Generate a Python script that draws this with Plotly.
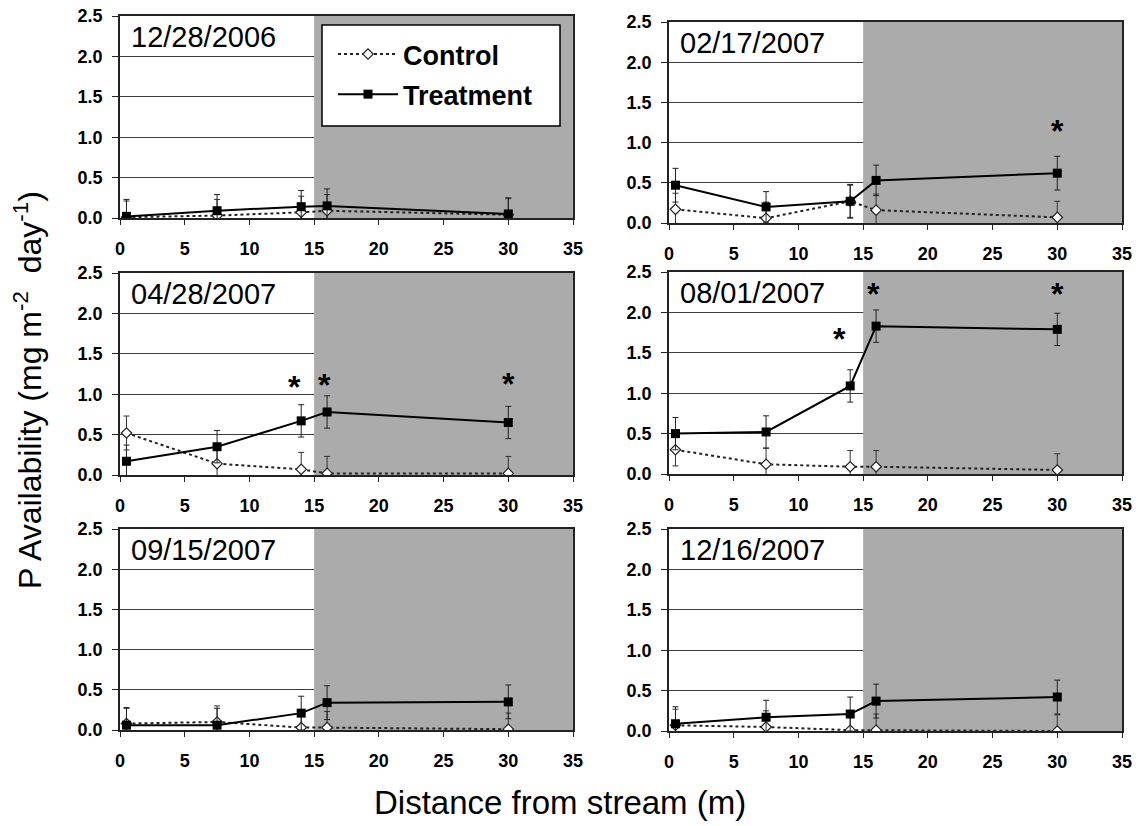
import plotly.graph_objects as go

W, H = 1139, 826
FONT = "Arial, 'Liberation Sans', sans-serif"

# ---- data ----
x_pos = [0.5, 7.5, 14, 16, 30]
dates = ["12/28/2006", "02/17/2007", "04/28/2007", "08/01/2007", "09/15/2007", "12/16/2007"]

ctrl_1 = [0.01, 0.03, 0.07, 0.09, 0.04]
ctrl_err_1 = [0.20, 0.20, 0.20, 0.20, 0.20]
treat_1 = [0.02, 0.09, 0.14, 0.15, 0.05]
treat_err_1 = [0.21, 0.20, 0.20, 0.21, 0.20]

ctrl_2 = [0.17, 0.06, 0.27, 0.16, 0.07]
ctrl_err_2 = [0.20, 0.20, 0.20, 0.20, 0.20]
treat_2 = [0.47, 0.20, 0.27, 0.53, 0.62]
treat_err_2 = [0.21, 0.19, 0.21, 0.19, 0.21]

ctrl_3 = [0.52, 0.14, 0.07, 0.02, 0.02]
ctrl_err_3 = [0.21, 0.21, 0.21, 0.21, 0.21]
treat_3 = [0.17, 0.35, 0.67, 0.78, 0.65]
treat_err_3 = [0.20, 0.20, 0.20, 0.20, 0.20]

ctrl_4 = [0.30, 0.12, 0.09, 0.09, 0.05]
ctrl_err_4 = [0.20, 0.20, 0.20, 0.20, 0.20]
treat_4 = [0.50, 0.52, 1.09, 1.83, 1.79]
treat_err_4 = [0.20, 0.20, 0.20, 0.20, 0.20]

ctrl_5 = [0.08, 0.10, 0.03, 0.03, 0.01]
ctrl_err_5 = [0.20, 0.20, 0.20, 0.20, 0.20]
treat_5 = [0.06, 0.06, 0.21, 0.34, 0.35]
treat_err_5 = [0.21, 0.21, 0.21, 0.21, 0.21]

ctrl_6 = [0.07, 0.05, 0.01, 0.01, 0.00]
ctrl_err_6 = [0.20, 0.20, 0.20, 0.20, 0.20]
treat_6 = [0.09, 0.17, 0.21, 0.37, 0.42]
treat_err_6 = [0.21, 0.21, 0.21, 0.21, 0.21]

# significance asterisks (x, y in data units)
sig_x = [[], [30], [13.5, 15.8, 30], [13.2, 15.8, 30], [], []]
sig_y = [[], [1.20], [1.14, 1.16, 1.18], [1.72, 2.28, 2.28], [], []]

shade_start, shade_end = 15, 35
x_ticks = [0, 5, 10, 15, 20, 25, 30, 35]
x_tick_text = ["0", "5", "10", "15", "20", "25", "30", "35"]
y_ticks = [0.0, 0.5, 1.0, 1.5, 2.0, 2.5]
y_tick_text = ["0.0", "0.5", "1.0", "1.5", "2.0", "2.5"]

ctrls = [ctrl_1, ctrl_2, ctrl_3, ctrl_4, ctrl_5, ctrl_6]
ctrl_errs = [ctrl_err_1, ctrl_err_2, ctrl_err_3, ctrl_err_4, ctrl_err_5, ctrl_err_6]
treats = [treat_1, treat_2, treat_3, treat_4, treat_5, treat_6]
treat_errs = [treat_err_1, treat_err_2, treat_err_3, treat_err_4, treat_err_5, treat_err_6]

# ---- layout geometry (pixel boxes: left, right, top, bottom) ----
boxes = [
    (120, 573, 16, 218),
    (669, 1122, 22, 223),
    (120, 573, 273, 475),
    (669, 1122, 272, 474),
    (120, 573, 529, 730),
    (669, 1122, 529, 731),
]

fig = go.Figure()
layout = dict(
    template="none",
    width=W, height=H,
    margin=dict(l=0, r=0, t=0, b=0, pad=0, autoexpand=False),
    paper_bgcolor="white", plot_bgcolor="white",
    font=dict(family=FONT, color="black"),
    showlegend=True,
    shapes=[], annotations=[],
)

for i in range(6):
    n = i + 1
    xa = "x" if n == 1 else f"x{n}"
    ya = "y" if n == 1 else f"y{n}"
    xkey = "xaxis" if n == 1 else f"xaxis{n}"
    ykey = "yaxis" if n == 1 else f"yaxis{n}"
    l, r, t, b = boxes[i]
    layout[xkey] = dict(
        domain=[l / W, r / W], anchor=ya, range=[0, 35], automargin=False,
        tickvals=x_ticks, ticktext=[f"<b>{s}</b>" for s in x_tick_text],
        ticks="outside", ticklen=5, tickwidth=1, tickcolor="#222",
        showgrid=False, zeroline=False, showline=True, linecolor="#222", linewidth=1.5,
        mirror=True, tickfont=dict(size=18, family=FONT, color="black"),
        ticklabelstandoff=9,
    )
    layout[ykey] = dict(
        domain=[1 - b / H, 1 - t / H], anchor=xa, range=[0, 2.5], automargin=False,
        tickvals=y_ticks, ticktext=[f"<b>{s}</b>" for s in y_tick_text],
        ticks="outside", ticklen=6, tickwidth=1, tickcolor="#222",
        showgrid=True, gridcolor="#3a3a3a", gridwidth=1.3, zeroline=False,
        showline=True, linecolor="#222", linewidth=1.5, mirror=True,
        tickfont=dict(size=18, family=FONT, color="black"), ticklabelstandoff=6,
    )
    layout["shapes"].append(dict(
        type="rect", xref=xa, yref=ya, x0=shade_start, x1=shade_end, y0=0, y1=2.5,
        fillcolor="#ababab", line=dict(width=0), layer="between",
    ))
    layout["annotations"].append(dict(
        text=dates[i], xref=f"{xa} domain", yref=f"{ya} domain",
        x=9 / (r - l), y=1 - 21 / (b - t), xanchor="left", yanchor="middle",
        showarrow=False, font=dict(size=29, family=FONT, color="black"),
    ))
    for sx, sy in zip(sig_x[i], sig_y[i]):
        layout["annotations"].append(dict(
            text="<b>*</b>", xref=xa, yref=ya, x=sx, y=sy, xanchor="center",
            yanchor="middle", yshift=-4, showarrow=False,
            font=dict(size=32, family=FONT, color="black"),
        ))

    fig.add_trace(go.Scatter(
        x=x_pos, y=ctrls[i], xaxis=xa, yaxis=ya, name="<b>Control</b>",
        mode="lines+markers", legendgroup="c", showlegend=(i == 0),
        line=dict(color="#222", width=2, dash="dot"),
        marker=dict(symbol="diamond", size=8, color="white", line=dict(color="#222", width=1.2)),
        error_y=dict(type="data", array=ctrl_errs[i], color="#333", thickness=1, width=3),
    ))
    fig.add_trace(go.Scatter(
        x=x_pos, y=treats[i], xaxis=xa, yaxis=ya, name="<b>Treatment</b>",
        mode="lines+markers", legendgroup="t", showlegend=(i == 0),
        line=dict(color="black", width=2),
        marker=dict(symbol="square", size=9, color="black"),
        error_y=dict(type="data", array=treat_errs[i], color="#222", thickness=1, width=3),
    ))

# legend frame
layout["shapes"].append(dict(
    type="rect", xref="paper", yref="paper",
    x0=322 / W, x1=560 / W, y0=1 - 126 / H, y1=1 - 25 / H,
    fillcolor="white", line=dict(color="black", width=1.5), layer="above",
))
layout["legend"] = dict(
    x=333 / W, y=1 - 30 / H, xanchor="left", yanchor="top",
    bgcolor="rgba(0,0,0,0)", borderwidth=0,
    font=dict(size=27, family=FONT, color="black"), itemwidth=60,
    tracegroupgap=2,
)

layout["annotations"].append(dict(
    text="Distance from stream (m)", xref="paper", yref="paper",
    x=560 / W, y=1 - 802 / H, xanchor="center", yanchor="middle",
    showarrow=False, font=dict(size=33, family=FONT),
))
layout["annotations"].append(dict(
    text="P Availability (mg m<sup>-2</sup>  day<sup>-1</sup>)", xref="paper", yref="paper",
    x=28 / W, y=1 - 390 / H, xanchor="center", yanchor="middle", textangle=-90,
    showarrow=False, font=dict(size=32, family=FONT),
))

fig.update_layout(**layout)
fig.write_html(
    "out.html",
    config={"displayModeBar": False},
    post_script="document.body.style.margin='0';document.body.style.padding='0';",
)
